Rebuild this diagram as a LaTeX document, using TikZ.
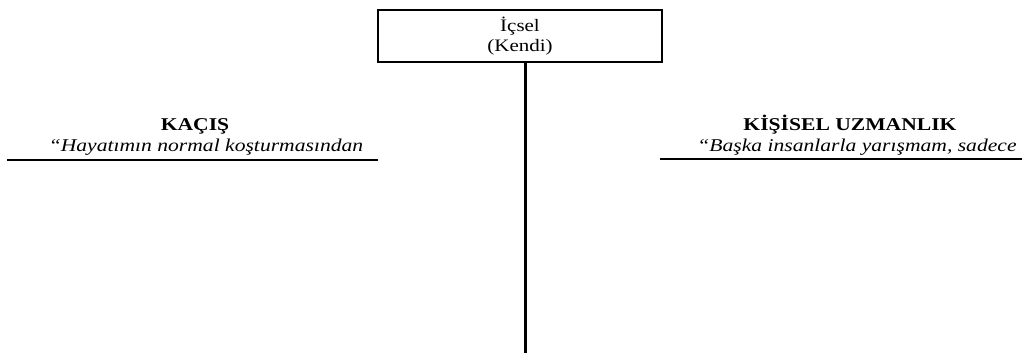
\documentclass[tikz,border=0pt]{standalone}
\usepackage{fontspec}
\setmainfont{Liberation Serif}[FakeStretch=1.2]
\begin{document}
\begin{tikzpicture}[x=1pt,y=-1pt,
  boxstyle/.style={draw,line width=2pt,minimum width=284pt,minimum height=52pt,inner sep=0pt,align=center,font=\fontsize{17.5}{20}\selectfont},
  head/.style={font=\fontsize{18}{21}\bfseries\selectfont,inner sep=0pt,anchor=base},
  quote/.style={font=\fontsize{18}{21}\itshape\selectfont,inner sep=0pt,anchor=base},
  rule/.style={line width=2pt}]
\useasboundingbox (0,0) rectangle (1022,353);
\node[boxstyle] (box) at (520,36) {İçsel\\(Kendi)};
\coordinate (bot) at (525,353);
\draw[line width=3pt] (box.south -| bot) -- (bot);
\node[head] (h1) at (195,130) {KAÇIŞ};
\node[quote] (q1) at (206,151) {“Hayatımın normal koşturmasından};
\coordinate (l1a) at (7,160);
\coordinate (l1b) at (378,160);
\draw[rule] (l1a) -- (l1b);
\node[head] (h2) at (850,130) {KİŞİSEL UZMANLIK};
\node[quote] (q2) at (857,151) {“Başka insanlarla yarışmam, sadece};
\coordinate (l2a) at (660,159);
\coordinate (l2b) at (1022,159);
\draw[rule] (l2a) -- (l2b);
\end{tikzpicture}
\end{document}
